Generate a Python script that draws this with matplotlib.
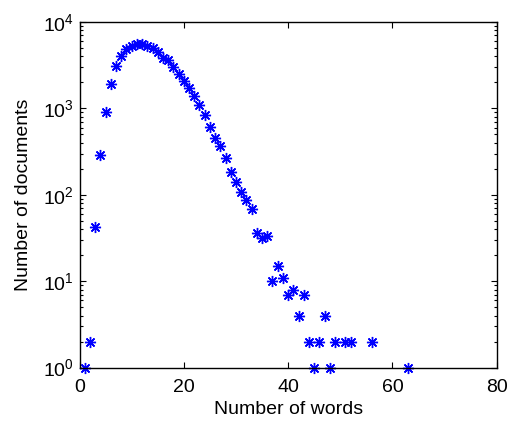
import matplotlib
matplotlib.use('Agg')
import matplotlib.pyplot as plt
from matplotlib.ticker import LogLocator, MultipleLocator, NullFormatter

plt.rcParams['font.family'] = ['Liberation Sans', 'DejaVu Sans']
plt.rcParams['mathtext.default'] = 'regular'

# word counts per document and how many documents have that count
num_words = [1, 2, 3, 4, 5, 6, 7, 8, 9, 10, 11, 12, 13, 14, 15, 16, 17, 18,
             19, 20, 21, 22, 23, 24, 25, 26, 27, 28, 29, 30, 31, 32, 33, 34,
             35, 36, 37, 38, 39, 40, 41, 42, 43, 44, 45, 46, 47, 48, 49, 51,
             52, 56, 63]
num_docs = [1, 2, 42, 290, 906, 1928, 3062, 4030, 4817, 5263, 5550, 5510,
            5220, 4945, 4447, 3853, 3623, 3006, 2517, 2071, 1704, 1376, 1084,
            836, 602, 450, 369, 268, 184, 140, 107, 88, 68, 36, 32, 33, 10,
            15, 11, 7, 8, 4, 7, 2, 1, 2, 4, 1, 2, 2, 2, 2, 1]


def plot_docs():
    fig = plt.figure(figsize=(5.11, 4.26), dpi=100)
    ax = fig.add_axes([0.1556, 0.1373, 0.8164, 0.811])

    # matlab style '*' marker: 8-spoke asterisk
    ax.plot(num_words, num_docs, linestyle='none', marker=(8, 2, 0),
            color='blue', markersize=8, markeredgewidth=1.0, clip_on=False)

    ax.set_yscale('log')
    ax.set_xlim(0, 80)
    ax.set_ylim(1, 1e4)
    ax.xaxis.set_major_locator(MultipleLocator(20))
    ax.yaxis.set_major_locator(LogLocator(base=10, numticks=10))
    ax.yaxis.set_minor_locator(LogLocator(base=10, subs=range(2, 10), numticks=10))
    ax.yaxis.set_minor_formatter(NullFormatter())

    ax.tick_params(which='both', direction='in', top=True, right=True,
                   labelsize=14, width=0.8)
    ax.tick_params(which='major', length=4.5)
    ax.tick_params(axis='x', which='major', pad=8)
    ax.tick_params(axis='y', which='major', pad=4)
    ax.tick_params(which='minor', length=2.5)
    for s in ax.spines.values():
        s.set_linewidth(1.0)

    ax.set_xlabel('Number of words', fontsize=14, labelpad=4)
    ax.set_ylabel('Number of documents', fontsize=14, labelpad=8)

    fig.savefig('out.png', dpi=100)
    plt.close(fig)


if __name__ == '__main__':
    plot_docs()
